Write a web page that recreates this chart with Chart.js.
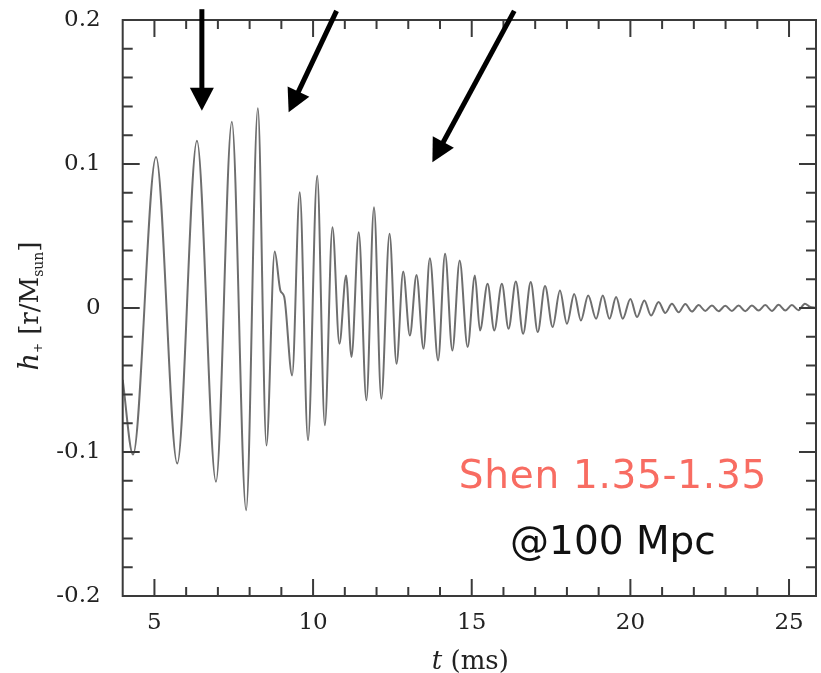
<!DOCTYPE html>
<html>
<head>
<meta charset="utf-8">
<title>Shen 1.35-1.35 waveform</title>
<script src="https://cdn.jsdelivr.net/npm/chart.js@4.4.0/dist/chart.umd.min.js"></script>
<style>
  html, body { margin: 0; padding: 0; background: #fff; }
  #wrap { width: 821px; height: 673px; position: relative; }
</style>
</head>
<body>
<div id="wrap"><canvas id="waveChart"></canvas></div>
<script>
// time (ms) of the extrema / turning points
const tMs = [4.0, 4.325, 5.05, 5.72, 6.34, 6.94, 7.44, 7.89, 8.26, 8.53,
  8.79, 8.97, 9.09, 9.34, 9.58, 9.84, 10.13, 10.37, 10.61, 10.83,
  11.04, 11.21, 11.44, 11.68, 11.92, 12.15, 12.41, 12.63, 12.84, 13.05,
  13.26, 13.48, 13.68, 13.94, 14.16, 14.39, 14.62, 14.87, 15.10, 15.26,
  15.50, 15.71, 15.95, 16.16, 16.39, 16.62, 16.86, 17.08, 17.31, 17.55,
  17.78, 18.0, 18.23, 18.44, 18.67, 18.92, 19.13, 19.34, 19.55, 19.76,
  20.0, 20.21, 20.44, 20.65, 20.89, 21.10, 21.31, 21.52, 21.73, 21.94,
  22.15, 22.36, 22.57, 22.78, 22.99, 23.2, 23.41, 23.62, 23.83, 24.04,
  24.25, 24.46, 24.67, 24.88, 25.09, 25.3, 25.5, 25.65, 25.85];

// strain h+ [r/Msun] at those times
const hStrain = [-0.05, -0.1018, 0.1049, -0.108, 0.1162, -0.1207, 0.1293, -0.1404, 0.1387, -0.0954,
  0.0392, 0.0121, 0.0078, -0.0468, 0.0804, -0.0919, 0.0919, -0.0815, 0.0561, -0.0248,
  0.0225, -0.034, 0.0526, -0.0641, 0.07, -0.063, 0.0515, -0.0387, 0.0253, -0.0191,
  0.023, -0.0283, 0.0346, -0.0364, 0.0376, -0.0295, 0.0329, -0.0271, 0.0225, -0.0156,
  0.0168, -0.0156, 0.0168, -0.0144, 0.0184, -0.0179, 0.018, -0.0167, 0.0152, -0.0132,
  0.0121, -0.011, 0.0098, -0.0087, 0.0087, -0.0075, 0.0087, -0.0075, 0.0076, -0.0075,
  0.0063, -0.0063, 0.0052, -0.0052, 0.0041, -0.0034, 0.0029, -0.003, 0.0028, -0.0025,
  0.002, -0.002, 0.0018, -0.0022, 0.0015, -0.002, 0.0018, -0.0022, 0.0018, -0.0018,
  0.002, -0.002, 0.0022, -0.0018, 0.002, -0.0015, 0.003, 0.001, 0.0];

const xLabelTicks = [5, 10, 15, 20, 25];
const yLabelTicks = [-0.2, -0.1, 0, 0.1, 0.2];
const noteLines = ['Shen 1.35-1.35', '@100 Mpc'];

// arrows: [tail t, tail h, tip t, tip h] in data units
const arrows = [
  [6.495, 0.2075, 6.495, 0.137],
  [10.74, 0.2063, 9.23, 0.1359],
  [16.34, 0.2063, 13.76, 0.1012]
];

const SERIF = '"DejaVu Serif", "Liberation Serif", serif';
const SANS = '"DejaVu Sans", Verdana, sans-serif';

function drawPieces(ctx, pieces, x, y) {
  let total = 0;
  pieces.forEach(p => { ctx.font = p.font; p.w = ctx.measureText(p.text).width; total += p.w; });
  let cx = x - total / 2;
  pieces.forEach(p => {
    ctx.font = p.font;
    ctx.fillText(p.text, cx, y + (p.dy || 0));
    cx += p.w;
  });
}

function drawArrow(ctx, x0, y0, x1, y1) {
  const dx = x1 - x0, dy = y1 - y0;
  const len = Math.hypot(dx, dy);
  const ux = dx / len, uy = dy / len;
  const headLen = 23, headHalf = 12;
  const bx = x1 - ux * headLen, by = y1 - uy * headLen;
  ctx.beginPath();
  ctx.moveTo(x0, y0);
  ctx.lineTo(bx + ux * 2, by + uy * 2);
  ctx.stroke();
  ctx.beginPath();
  ctx.moveTo(x1, y1);
  ctx.lineTo(bx - uy * headHalf, by + ux * headHalf);
  ctx.lineTo(bx + uy * headHalf, by - ux * headHalf);
  ctx.closePath();
  ctx.fill();
}

const frameTicks = {
  id: 'frameTicks',
  afterDraw(chart) {
    const { ctx, chartArea: a, scales: { x, y } } = chart;
    ctx.save();
    ctx.strokeStyle = '#3a3a3a';
    ctx.lineWidth = 2;
    ctx.strokeRect(a.left, a.top, a.right - a.left, a.bottom - a.top);

    ctx.beginPath();
    x.ticks.forEach(tk => {
      const px = x.getPixelForValue(tk.value);
      if (px <= a.left + 1 || px >= a.right - 1) return;
      const len = xLabelTicks.includes(tk.value) ? 17 : 9;
      ctx.moveTo(px, a.bottom); ctx.lineTo(px, a.bottom - len);
      ctx.moveTo(px, a.top); ctx.lineTo(px, a.top + len);
    });
    y.ticks.forEach(tk => {
      const py = y.getPixelForValue(tk.value);
      if (py <= a.top + 1 || py >= a.bottom - 1) return;
      const k = Math.round(tk.value * 100);
      const len = k % 10 === 0 ? 17 : 10;
      ctx.moveTo(a.left, py); ctx.lineTo(a.left + len, py);
      ctx.moveTo(a.right, py); ctx.lineTo(a.right - len, py);
    });
    ctx.stroke();

    // axis titles
    ctx.fillStyle = '#222';
    ctx.textBaseline = 'alphabetic';
    ctx.textAlign = 'left';
    drawPieces(ctx, [
      { text: 't', font: 'italic 26px ' + SERIF },
      { text: ' (ms)', font: '26px ' + SERIF }
    ], (a.left + a.right) / 2 + 1, 669);

    ctx.save();
    ctx.translate(29, (a.top + a.bottom) / 2 - 2);
    ctx.rotate(-Math.PI / 2);
    drawPieces(ctx, [
      { text: 'h', font: 'italic 27px ' + SERIF },
      { text: '+', font: '12px ' + SERIF, dy: 4 },
      { text: ' [r/M', font: '26px ' + SERIF },
      { text: 'sun', font: '14px ' + SERIF, dy: 5 },
      { text: ']', font: '26px ' + SERIF }
    ], 0, 9);
    ctx.restore();

    // arrows
    ctx.strokeStyle = '#000';
    ctx.fillStyle = '#000';
    ctx.lineWidth = 5;
    arrows.forEach(ar => {
      drawArrow(ctx, x.getPixelForValue(ar[0]), y.getPixelForValue(ar[1]),
        x.getPixelForValue(ar[2]), y.getPixelForValue(ar[3]));
    });

    // notes
    ctx.textAlign = 'center';
    ctx.font = '39px ' + SANS;
    ctx.fillStyle = '#f86c62';
    ctx.letterSpacing = '0.7px';
    ctx.fillText(noteLines[0], x.getPixelForValue(19.45), y.getPixelForValue(-0.125));
    ctx.letterSpacing = '0px';
    ctx.fillStyle = '#111';
    ctx.fillText(noteLines[1], x.getPixelForValue(19.45), y.getPixelForValue(-0.1705));
    ctx.restore();
  }
};

new Chart(document.getElementById('waveChart'), {
  type: 'line',
  data: {
    datasets: [{
      data: tMs.map((t, i) => ({ x: t, y: hStrain[i] })),
      borderColor: '#6e6e6e',
      borderWidth: 2,
      pointRadius: 0,
      cubicInterpolationMode: 'monotone',
      fill: false
    }]
  },
  options: {
    responsive: true,
    maintainAspectRatio: false,
    animation: false,
    layout: { padding: { top: 20, right: 5, bottom: 0, left: 0 } },
    plugins: { legend: { display: false }, tooltip: { enabled: false } },
    scales: {
      x: {
        type: 'linear',
        min: 4,
        max: 25.85,
        grid: { display: false, drawTicks: false },
        border: { display: false },
        afterFit: s => { s.height = 77; s.paddingLeft = 0; s.paddingRight = 0; },
        ticks: {
          stepSize: 1,
          includeBounds: false,
          autoSkip: false,
          maxRotation: 0,
          padding: 13,
          color: '#222',
          font: { family: SERIF, size: 23 },
          callback: v => xLabelTicks.includes(v) ? String(v) : ''
        }
      },
      y: {
        min: -0.2,
        max: 0.2,
        grid: { display: false, drawTicks: false },
        border: { display: false },
        afterFit: s => { s.width = 122.7; s.paddingTop = 0; s.paddingBottom = 0; },
        ticks: {
          stepSize: 0.02,
          autoSkip: false,
          padding: 22,
          color: '#222',
          font: { family: SERIF, size: 23 },
          callback: v => {
            const k = Math.round(v * 100);
            return k % 10 === 0 ? String(k / 100) : '';
          }
        }
      }
    }
  },
  plugins: [frameTicks]
});
</script>
</body>
</html>
